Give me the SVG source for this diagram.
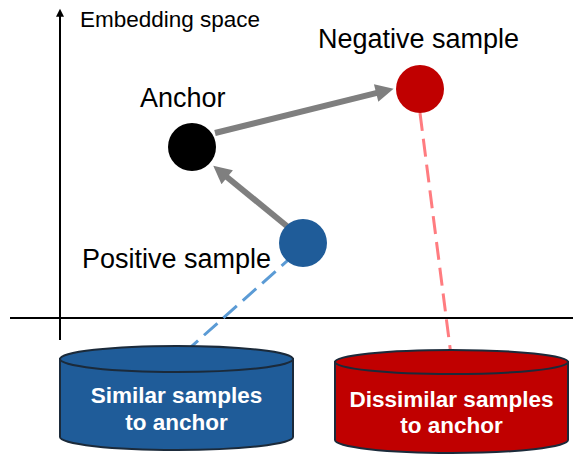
<svg xmlns="http://www.w3.org/2000/svg" width="573" height="454" viewBox="0 0 573 454">
<style>
.lbl{font-family:"Liberation Sans",Arial,sans-serif;fill:#000}
.db{font-family:"Liberation Sans",Arial,sans-serif;font-weight:bold;fill:#fff;font-size:22.5px;text-anchor:middle}
.arr{stroke:#7f7f7f;stroke-width:6;fill:none}
.axis{stroke:#000;stroke-width:2;fill:none}
</style>
<defs>
<marker id="ah" viewBox="0 0 10 10" refX="0.5" refY="5" markerWidth="3.4" markerHeight="3" orient="auto" markerUnits="strokeWidth">
<path d="M0,0 L10,5 L0,10 z" fill="#7f7f7f"/>
</marker>
<marker id="ax" viewBox="0 0 10 10" refX="1" refY="5" markerWidth="5" markerHeight="4" orient="auto" markerUnits="strokeWidth">
<path d="M0,0 L10,5 L0,10 z" fill="#000"/>
</marker>
</defs>
<g id="axes">
<line class="axis" x1="60" y1="340" x2="60" y2="16" marker-end="url(#ax)"/>
<line class="axis" x1="10" y1="318" x2="573" y2="318"/>
<text class="lbl" x="80" y="27" font-size="22.5">Embedding space</text>
</g>
<g id="connectors">
<line x1="295" y1="254" x2="183" y2="354" stroke="#5b9bd5" stroke-width="3" stroke-dasharray="18 8"/>
<line x1="420" y1="113" x2="452" y2="363" stroke="#ff7c80" stroke-width="3" stroke-dasharray="18 8"/>
<line class="arr" x1="215" y1="133" x2="377" y2="92.8" marker-end="url(#ah)"/>
<line class="arr" x1="288" y1="227" x2="226.5" y2="176.7" marker-end="url(#ah)"/>
</g>
<g id="similar">
<path d="M60,359 L60,437 A116.5,13 0 0 0 293,437 L293,359 Z" fill="#1f5c99" stroke="#1b2a3a" stroke-width="2"/>
<ellipse cx="176.5" cy="359" rx="116.5" ry="13" fill="#1f5c99" stroke="#1b2a3a" stroke-width="2"/>
<text class="db" x="176.5" y="403">Similar samples</text>
<text class="db" x="176.5" y="430">to anchor</text>
</g>
<g id="dissimilar">
<path d="M335,362 L335,440 A116.5,13 0 0 0 568,440 L568,362 Z" fill="#c00000" stroke="#1b2a3a" stroke-width="2"/>
<ellipse cx="451.5" cy="362" rx="116.5" ry="12" fill="#c00000" stroke="#1b2a3a" stroke-width="2"/>
<text class="db" x="451.5" y="407">Dissimilar samples</text>
<text class="db" x="451.5" y="433">to anchor</text>
</g>
<g id="anchor">
<circle cx="192" cy="147" r="24" fill="#000"/>
<text class="lbl" x="140" y="107" font-size="27">Anchor</text>
</g>
<g id="negative">
<circle cx="420" cy="89" r="24" fill="#c00000"/>
<text class="lbl" x="318" y="48" font-size="27">Negative sample</text>
</g>
<g id="positive">
<circle cx="303" cy="243" r="24" fill="#1f5c99"/>
<text class="lbl" x="82" y="268" font-size="27">Positive sample</text>
</g>
</svg>
